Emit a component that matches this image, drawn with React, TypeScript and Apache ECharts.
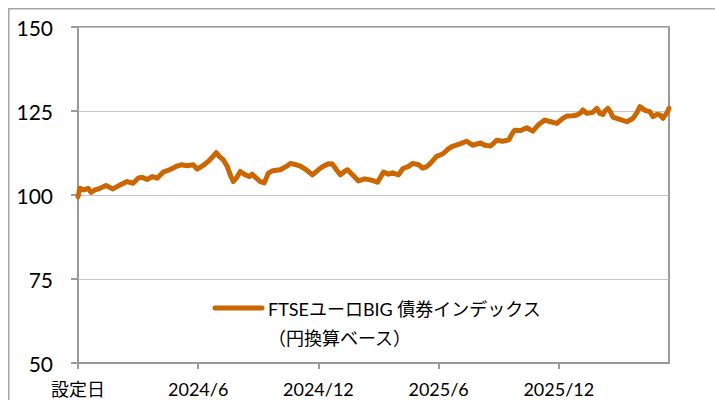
import React, { useEffect, useRef } from "react";
import * as echarts from "echarts";

// months since 設定日
const months = [
  0, 0.1, 0.3, 0.5, 0.65, 0.85, 1.1, 1.4, 1.75, 2.1, 2.45, 2.75, 3.0, 3.2, 3.45, 3.7, 3.95,
  4.25, 4.6, 4.9, 5.15, 5.45, 5.75, 5.95, 6.25, 6.5, 6.75, 6.9, 7.05, 7.25, 7.45, 7.6, 7.75,
  7.9, 8.1, 8.35, 8.55, 8.7, 8.9, 9.1, 9.3, 9.5, 9.7, 10.1, 10.4, 10.6, 10.9, 11.1, 11.4,
  11.7, 12.0, 12.2, 12.5, 12.7, 12.9, 13.1, 13.3, 13.45, 13.7, 14.0, 14.3, 14.6, 14.95,
  15.25, 15.5, 15.7, 16.0, 16.2, 16.5, 16.7, 17.0, 17.2, 17.4, 17.6, 17.9, 18.2, 18.5,
  18.7, 19.1, 19.4, 19.7, 20.1, 20.3, 20.6, 20.9, 21.2, 21.5, 21.7, 21.8, 22.1, 22.4,
  22.7, 23.0, 23.3, 23.6, 23.9, 24.2, 24.4, 24.7, 24.9, 25.1, 25.2, 25.4, 25.7, 25.9,
  26.05, 26.2, 26.3, 26.45, 26.6, 26.7, 27.0, 27.4, 27.7, 27.9, 28.05, 28.3, 28.55,
  28.7, 28.9, 29.05, 29.2, 29.4, 29.5,
];

const values = [
  99.5, 102, 101.5, 102, 100.8, 101.5, 102, 102.8, 101.8, 103, 104, 103.5, 105, 105.3, 104.6,
  105.5, 105, 106.8, 107.6, 108.5, 109, 108.7, 109, 107.7, 108.8, 110, 111.5, 112.6, 111.5,
  110.5, 108.5, 106, 104, 105, 107, 106, 105.5, 106.2, 105, 104, 103.6, 106.5, 107.2, 107.5,
  108.5, 109.4, 109, 108.6, 107.5, 106, 107.5, 108.4, 109.3, 109.2, 107.5, 106, 107, 107.5,
  106, 104.2, 104.8, 104.5, 103.8, 106.8, 106.2, 106.6, 106, 107.8, 108.5, 109.4, 109, 108,
  108.4, 109.5, 111.5, 112.2, 113.8, 114.5, 115.3, 116, 114.8, 115.5, 114.8, 114.6, 116.3,
  116, 116.4, 118.5, 119.3, 119.2, 120, 119, 121, 122.3, 121.8, 121.3, 122.8, 123.5, 123.6,
  123.8, 124.5, 125.3, 124.3, 124.6, 125.8, 124.3, 124, 125, 125.8, 124.5, 123.2, 122.6,
  121.8, 122.8, 124.5, 126.3, 125.2, 124.8, 123.3, 124, 123.8, 122.8, 124.5, 125.8,
];

const tickMonths = [0, 6, 12, 18, 24];
const tickLabels = ["設定日", "2024/6", "2024/12", "2025/6", "2025/12"];
const yTicks = [50, 75, 100, 125, 150];

const seriesName = "FTSEユーロBIG 債券インデックス";
const seriesNameLine2 = "（円換算ベース）";

const FONT = 'Lato, "Noto Sans CJK JP", sans-serif';
const ORANGE = "#CC6600";

export default function App() {
  const ref = useRef<HTMLDivElement>(null);

  useEffect(() => {
    if (!ref.current) return;
    const chart = echarts.init(ref.current, undefined, { renderer: "svg" });
    const data = months.map((m, i) => [m, values[i]]);
    chart.setOption({
      animation: false,
      backgroundColor: "#ffffff",
      grid: {
        left: 78,
        right: 46,
        top: 27,
        bottom: 37,
        show: true,
        borderColor: "#9a9a9a",
        borderWidth: 2,
        backgroundColor: "transparent",
      },
      xAxis: {
        type: "value",
        min: 0,
        max: 29.5,
        axisLine: { show: true, lineStyle: { color: "#9a9a9a", width: 2 } },
        axisTick: {
          show: true,
          length: 6,
          customValues: tickMonths,
          lineStyle: { color: "#9a9a9a", width: 2 },
        },
        axisLabel: {
          customValues: tickMonths,
          formatter: (v: number) => {
            const i = tickMonths.indexOf(v);
            return i >= 0 ? tickLabels[i] : "";
          },
          color: "#000",
          fontSize: 18,
          fontFamily: FONT,
          margin: 17,
        },
        splitLine: { show: false },
      },
      yAxis: {
        type: "value",
        min: yTicks[0],
        max: yTicks[yTicks.length - 1],
        interval: 25,
        axisLine: { show: true, lineStyle: { color: "#9a9a9a", width: 2 } },
        axisTick: { show: true, length: 7, lineStyle: { color: "#9a9a9a", width: 2 } },
        axisLabel: {
          color: "#000",
          fontSize: 21,
          fontFamily: FONT,
          margin: 25,
        },
        splitLine: { show: true, lineStyle: { color: "#c4c4c4", width: 1 } },
      },
      series: [
        {
          name: seriesName,
          type: "line",
          data,
          showSymbol: false,
          clip: false,
          lineStyle: { color: ORANGE, width: 5, join: "round", cap: "round" },
          itemStyle: { color: ORANGE },
        },
      ],
      graphic: [
        {
          type: "rect",
          shape: { x: 8.75, y: 8.75, width: 800, height: 500 },
          style: { fill: "none", stroke: "#a6a6a6", lineWidth: 1.5 },
          silent: true,
          z: 0,
        },
        {
          type: "line",
          shape: { x1: 215, y1: 308, x2: 262, y2: 308 },
          style: { stroke: ORANGE, lineWidth: 5, lineCap: "round" },
          z: 10,
        },
        {
          type: "text",
          x: 268,
          y: 294,
          style: {
            text: seriesName + "\n" + seriesNameLine2,
            fontSize: 18,
            lineHeight: 29,
            fontFamily: FONT,
            fill: "#000",
            verticalAlign: "top",
            align: "left",
          },
          z: 10,
        },
      ],
    });
    return () => chart.dispose();
  }, []);

  return (
    <div
      ref={ref}
      style={{ position: "fixed", left: 0, top: 0, width: 715, height: 400 }}
    />
  );
}
